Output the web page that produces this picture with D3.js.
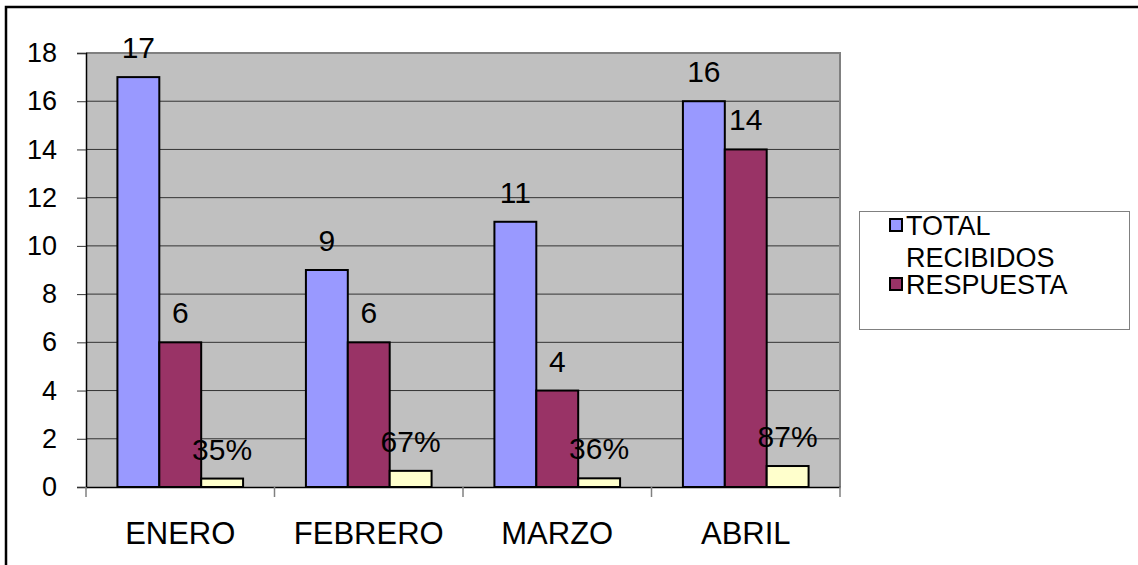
<!DOCTYPE html>
<html>
<head>
<meta charset="utf-8">
<script src="https://cdn.jsdelivr.net/npm/d3@7"></script>
<style>
  html, body { margin: 0; padding: 0; background: #fff; }
  svg { display: block; font-family: "Liberation Sans", Arial, sans-serif; }
</style>
</head>
<body>
<div id="chart"></div>
<script>
// datos
const meses = ['ENERO', 'FEBRERO', 'MARZO', 'ABRIL'];
const totalRecibidos = [17, 9, 11, 16];
const respuesta = [6, 6, 4, 14];
const porcentaje = [0.35, 0.67, 0.36, 0.87];
const yTicks = [0, 2, 4, 6, 8, 10, 12, 14, 16, 18];
const seriesNames = ['TOTAL RECIBIDOS', 'RESPUESTA', ''];
const colores = ['#9999ff', '#993366', '#ffffcc'];

const W = 1138, H = 565;
const plot = { left: 86, right: 840, top: 53, bottom: 487 };

const svg = d3.select('#chart').append('svg')
  .attr('width', W)
  .attr('height', H);

// marco exterior (sólo se ven arriba y a la izquierda)
svg.append('rect')
  .attr('x', 6).attr('y', 7)
  .attr('width', W + 20).attr('height', H + 20)
  .attr('fill', '#fff')
  .attr('stroke', '#000')
  .attr('stroke-width', 2.5);

// **Escalas**
const x = d3.scaleBand()
  .domain(meses)
  .range([plot.left, plot.right])
  .padding(0);

const barW = x.bandwidth() / 4.5; // gap width 150%
const xs = d3.scaleBand()
  .domain(d3.range(3))
  .range([barW * 0.75, x.bandwidth() - barW * 0.75]);

const y = d3.scaleLinear()
  .domain([0, 18])
  .range([plot.bottom, plot.top]);

// área de trazado
svg.append('rect')
  .attr('x', plot.left).attr('y', plot.top)
  .attr('width', plot.right - plot.left)
  .attr('height', plot.bottom - plot.top)
  .attr('fill', '#c0c0c0');

// líneas de la cuadrícula
svg.append('g')
  .selectAll('line')
  .data(yTicks.filter(d => d > 0 && d < 18))
  .enter().append('line')
  .attr('x1', plot.left).attr('x2', plot.right)
  .attr('y1', d => y(d)).attr('y2', d => y(d))
  .attr('stroke', '#333')
  .attr('stroke-width', 1);

// borde gris arriba y derecha
svg.append('path')
  .attr('d', `M${plot.left},${plot.top}H${plot.right}V${plot.bottom}`)
  .attr('fill', 'none')
  .attr('stroke', '#808080')
  .attr('stroke-width', 2);

// **Barras**
const seriesData = [totalRecibidos, respuesta, porcentaje];
const rows = [];
seriesData.forEach((vals, s) => {
  vals.forEach((v, i) => rows.push({ mes: meses[i], s, v }));
});

svg.append('g')
  .selectAll('rect')
  .data(rows)
  .enter().append('rect')
  .attr('x', d => x(d.mes) + xs(d.s))
  .attr('y', d => y(d.v))
  .attr('width', xs.bandwidth())
  .attr('height', d => y(0) - y(d.v))
  .attr('fill', d => colores[d.s])
  .attr('stroke', '#000')
  .attr('stroke-width', 2);

// etiquetas de datos
svg.append('g')
  .selectAll('text')
  .data(rows)
  .enter().append('text')
  .attr('x', d => x(d.mes) + xs(d.s) + xs.bandwidth() / 2)
  .attr('y', d => y(d.v) - 19)
  .attr('text-anchor', 'middle')
  .attr('font-size', 30)
  .attr('fill', '#000')
  .text(d => d.s === 2 ? Math.round(d.v * 100) + '%' : d.v);

// **Ejes**
const yAxis = svg.append('g')
  .attr('transform', `translate(${plot.left},0)`)
  .call(d3.axisLeft(y).tickValues(yTicks).tickSize(9).tickPadding(20));
yAxis.select('.domain').attr('stroke', '#000').attr('stroke-width', 1.5);
yAxis.selectAll('.tick line').attr('stroke', '#333');
yAxis.selectAll('.tick text')
  .attr('font-size', 27)
  .attr('font-family', '"Liberation Sans", Arial, sans-serif')
  .attr('fill', '#000');

const xAxis = svg.append('g')
  .attr('transform', `translate(0,${plot.bottom})`)
  .call(d3.axisBottom(x).tickSize(0).tickPadding(0));
xAxis.select('.domain').attr('stroke', '#000').attr('stroke-width', 1.5);
xAxis.selectAll('.tick text')
  .attr('y', 57)
  .attr('dy', 0)
  .attr('font-size', 31)
  .attr('font-family', '"Liberation Sans", Arial, sans-serif')
  .attr('fill', '#000');

// marcas entre categorías
const limites = meses.map(m => x(m)).concat([x.range()[1]]);
svg.append('g')
  .selectAll('line')
  .data(limites)
  .enter().append('line')
  .attr('x1', d => d).attr('x2', d => d)
  .attr('y1', plot.bottom).attr('y2', plot.bottom + 10)
  .attr('stroke', '#808080')
  .attr('stroke-width', 1.5);

// **Leyenda**
const leg = svg.append('g');
leg.append('rect')
  .attr('x', 859.5).attr('y', 211.5)
  .attr('width', 270).attr('height', 118)
  .attr('fill', '#fff')
  .attr('stroke', '#808080')
  .attr('stroke-width', 1);

const legItems = [
  { lines: ['TOTAL', 'RECIBIDOS'], color: colores[0], swatchY: 219, textY: [235, 267] },
  { lines: ['RESPUESTA'], color: colores[1], swatchY: 278, textY: [294] }
];
legItems.forEach(it => {
  leg.append('rect')
    .attr('x', 890).attr('y', it.swatchY)
    .attr('width', 12).attr('height', 12)
    .attr('fill', it.color)
    .attr('stroke', '#000')
    .attr('stroke-width', 2);
  it.lines.forEach((t, k) => {
    leg.append('text')
      .attr('x', 906)
      .attr('y', it.textY[k])
      .attr('font-size', 27)
      .attr('fill', '#000')
      .text(t);
  });
});
</script>
</body>
</html>
